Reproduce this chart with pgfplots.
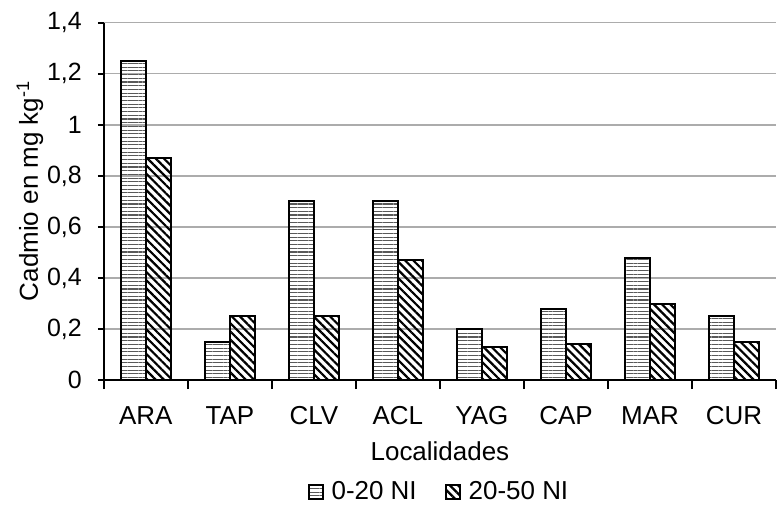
\documentclass[border=0pt]{standalone}
\usepackage{pgfplots}
\pgfplotsset{compat=1.18}
\usepackage{fontspec}
\setmainfont{Liberation Sans}
\usetikzlibrary{patterns.meta}
\begin{document}
\begin{tikzpicture}
\begin{axis}[
  at={(0,0)}, anchor=south west,
  scale only axis, width=336.5pt, height=179pt,
  font=\fontsize{13}{15}\selectfont,
  xmin=-0.5, xmax=7.5, ymin=0, ymax=1.4,
  axis x line*=bottom, axis y line*=left,
  axis line style={line width=1pt, black, -},
  xtick={0,1,2,3,4,5,6,7},
  xticklabels={ARA,TAP,CLV,ACL,YAG,CAP,MAR,CUR},
  major x tick style={draw=none},
  minor xtick={-0.5,0.5,1.5,2.5,3.5,4.5,5.5,6.5,7.5},
  minor x tick style={line width=1pt, black},
  minor tick length=4.5pt,
  ytick={0,0.2,0.4,0.6,0.8,1,1.2,1.4},
  major y tick style={line width=1pt, black},
  major tick length=3pt,
  tick align=outside,
  ymajorgrids, grid style={gray!65, line width=0.7pt},
  /pgf/number format/.cd, use comma, fixed, assume math mode=true,
  /pgfplots/.cd,
  yticklabel style={xshift=-4.5pt, font=\fontsize{12.5}{15}\selectfont},
  xticklabel style={yshift=-6.5pt},
  xlabel={Localidades},
  xlabel style={at={([yshift=-35.5pt]axis description cs:0.5,0)}, anchor=center},
  ylabel={Cadmio en mg kg\textsuperscript{-1}},
  ylabel style={at={([xshift=-37pt]axis description cs:0,0.53)}, anchor=center},
  legend columns=2,
  legend style={draw=none, at={(0.5,-0.313)}, anchor=center, font=\fontsize{13}{15}\selectfont,
    /tikz/every even column/.append style={column sep=12pt},
    /tikz/every odd column/.append style={column sep=0pt}},
  legend image code/.code={\draw[#1, line width=1pt] (0pt,-3.5pt) rectangle (7pt,3.5pt);},
]
\addplot[ybar, bar width=0.294, bar shift=-0.147, draw=black, line width=1pt,
  pattern={Lines[angle=0, distance=1.85pt, line width=0.55pt]}, pattern color=black!65]
  coordinates {(0,1.25) (1,0.15) (2,0.70) (3,0.70) (4,0.20) (5,0.28) (6,0.48) (7,0.25)};
\addlegendentry{\hspace{2pt}0-20 NI}
\addplot[ybar, bar width=0.294, bar shift=0.147, draw=black, line width=1pt,
  pattern={Lines[angle=-45, distance=2.9pt, line width=1.1pt]}, pattern color=black]
  coordinates {(0,0.87) (1,0.25) (2,0.25) (3,0.47) (4,0.13) (5,0.14) (6,0.30) (7,0.15)};
\addlegendentry{\hspace{2pt}20-50 NI}
\end{axis}
\path (-52pt,-64.65pt) rectangle (336.5pt,190.35pt);
\end{tikzpicture}
\end{document}
